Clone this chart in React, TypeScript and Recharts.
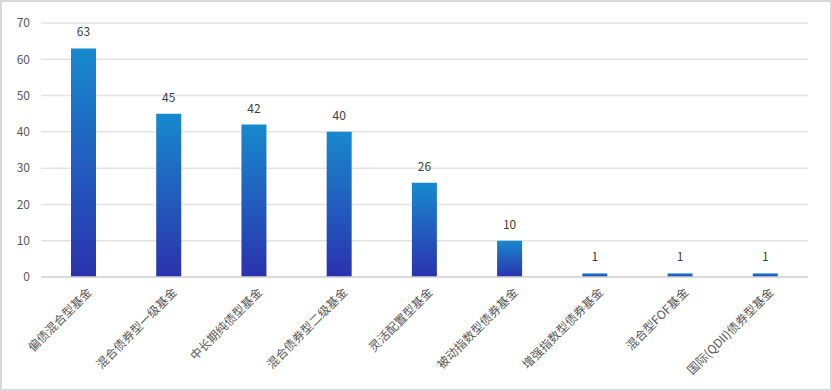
import React from "react"
import { BarChart, Bar, XAxis, YAxis, CartesianGrid, LabelList } from "recharts"

const categories = [
  "偏债混合型基金",
  "混合债券型一级基金",
  "中长期纯债型基金",
  "混合债券型二级基金",
  "灵活配置型基金",
  "被动指数型债券基金",
  "增强指数型债券基金",
  "混合型FOF基金",
  "国际(QDII)债券型基金",
]
const counts = [63, 45, 42, 40, 26, 10, 1, 1, 1]
const yTicks = [0, 10, 20, 30, 40, 50, 60, 70]

const data = categories.map((name, i) => ({ name, value: counts[i] }))

const FONT = "'Microsoft YaHei', 'Noto Sans CJK SC', sans-serif"

function RotatedTick(props: any) {
  const { x, y, payload } = props
  return (
    <g transform={`translate(${x + 9},${y + 8})`}>
      <text
        transform="rotate(-45)"
        textAnchor="end"
        fill="#595959"
        fontSize={12}
        fontFamily={FONT}
      >
        {payload.value}
      </text>
    </g>
  )
}

export default function App() {
  return (
    <div
      style={{
        position: "fixed",
        left: 0,
        top: 0,
        width: 832,
        height: 391,
        boxSizing: "border-box",
        border: "2px solid #d9d9d9",
        background: "#fff",
      }}
    >
      <BarChart
        width={828}
        height={387}
        data={data}
        margin={{ top: 21, right: 22, left: 0, bottom: 0 }}
        style={{ fontFamily: FONT }}
      >
        <defs>
          <linearGradient id="barGrad" x1="0" y1="0" x2="0" y2="1">
            <stop offset="0%" stopColor="#1789cd" />
            <stop offset="100%" stopColor="#2b32ae" />
          </linearGradient>
        </defs>
        <CartesianGrid vertical={false} stroke="#e3e3e3" strokeWidth={1.5} />
        <XAxis
          dataKey="name"
          interval={0}
          tickLine={false}
          axisLine={{ stroke: "#d4d4d4", strokeWidth: 1.5 }}
          height={112}
          tick={<RotatedTick />}
        />
        <YAxis
          width={39}
          domain={[0, 70]}
          ticks={yTicks}
          axisLine={false}
          tickLine={false}
          tickMargin={5}
          tick={{ fill: "#595959", fontSize: 12 }}
        />
        <Bar dataKey="value" barSize={25} fill="url(#barGrad)" isAnimationActive={false}>
          <LabelList dataKey="value" position="top" offset={12} fill="#404040" fontSize={12} />
        </Bar>
      </BarChart>
    </div>
  )
}
